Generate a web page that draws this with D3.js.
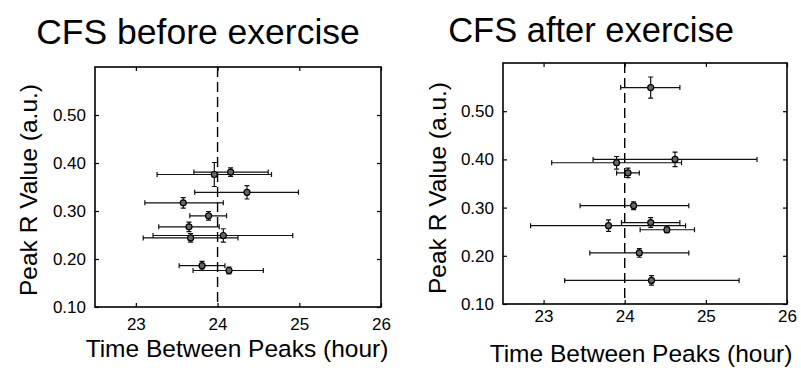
<!DOCTYPE html>
<html>
<head>
<meta charset="utf-8">
<script src="https://cdn.jsdelivr.net/npm/d3@7"></script>
<style>
  body { margin: 0; background: #fff; }
  svg { display: block; font-family: "Liberation Sans", Arial, Helvetica, sans-serif; }
</style>
</head>
<body>
<svg id="plot"></svg>
<script>
// tick labels shared by both panels
const xTicks = [23, 24, 25, 26];
const yTicks = [0.10, 0.20, 0.30, 0.40, 0.50];

// CFS before exercise (period, peak R, horizontal range, vertical half-width)
const beforeX    = [23.96, 24.16, 24.36, 23.58, 23.89, 23.65, 23.67, 24.07, 23.81, 24.14];
const beforeY    = [0.376, 0.381, 0.339, 0.317, 0.290, 0.267, 0.244, 0.249, 0.186, 0.176];
const beforeXLo  = [23.26, 23.71, 23.72, 23.11, 23.66, 23.28, 23.09, 23.21, 23.53, 23.70];
const beforeXHi  = [24.66, 24.62, 24.99, 24.07, 24.11, 24.02, 24.25, 24.92, 24.09, 24.56];
const beforeYErr = [0.025, 0.009, 0.014, 0.011, 0.009, 0.010, 0.009, 0.014, 0.009, 0.007];

// CFS after exercise
const afterX    = [24.32, 24.62, 23.90, 24.04, 24.11, 23.80, 24.32, 24.52, 24.18, 24.33];
const afterY    = [0.549, 0.400, 0.393, 0.372, 0.304, 0.2625, 0.269, 0.254, 0.206, 0.149];
const afterXLo  = [23.95, 23.61, 23.10, 23.90, 23.45, 22.84, 23.96, 24.19, 23.57, 23.26];
const afterXHi  = [24.68, 25.63, 24.70, 24.18, 24.79, 24.75, 24.68, 24.86, 24.79, 25.41];
const afterYErr = [0.022, 0.015, 0.013, 0.010, 0.008, 0.012, 0.010, 0.006, 0.009, 0.010];

const xDomain = [22.5, 26];
const yDomain = [0.10, 0.60];
const refPeriod = 24;

const width = 801;
const height = 368;

const plot = d3.select("#plot").attr("width", width).attr("height", height);

function toRows(xs, ys, lo, hi, ye) {
    return xs.map((x, i) => ({ x: x, y: ys[i], xlo: lo[i], xhi: hi[i], yerr: ye[i] }));
}

function drawPanel(p) {
    const x = d3.scaleLinear().domain(xDomain).range([p.left, p.right]);
    const y = d3.scaleLinear().domain(yDomain).range([p.bottom, p.top]);
    const g = plot.append("g");

    // title
    g.append("text")
        .attr("x", p.titleX).attr("y", p.titleY)
        .attr("text-anchor", "middle")
        .attr("font-size", p.titleSize)
        .text(p.title);

    // inward ticks on all four sides, labels bottom + left
    const tickLen = 4;
    g.append("g")
        .attr("transform", `translate(0,${p.bottom})`)
        .call(d3.axisBottom(x).tickValues(xTicks).tickSizeInner(-tickLen).tickSizeOuter(0).tickPadding(p.xPad).tickFormat(d3.format("d")))
        .call(a => a.select(".domain").remove())
        .call(a => a.selectAll("text").attr("font-size", 17).attr("font-family", null).attr("fill", "#000"));
    g.append("g")
        .attr("transform", `translate(0,${p.top})`)
        .call(d3.axisTop(x).tickValues(xTicks).tickSizeInner(-tickLen).tickSizeOuter(0).tickFormat(""))
        .call(a => a.select(".domain").remove());
    g.append("g")
        .attr("transform", `translate(${p.left},0)`)
        .call(d3.axisLeft(y).tickValues(yTicks).tickSizeInner(-tickLen).tickSizeOuter(0).tickPadding(9).tickFormat(d3.format(".2f")))
        .call(a => a.select(".domain").remove())
        .call(a => a.selectAll("text").attr("font-size", 17).attr("font-family", null).attr("fill", "#000"));
    g.append("g")
        .attr("transform", `translate(${p.right},0)`)
        .call(d3.axisRight(y).tickValues(yTicks).tickSizeInner(-tickLen).tickSizeOuter(0).tickFormat(""))
        .call(a => a.select(".domain").remove());
    g.selectAll(".tick line").attr("stroke", "#000").attr("stroke-width", 1.2);

    // box
    g.append("rect")
        .attr("x", p.left).attr("y", p.top)
        .attr("width", p.right - p.left).attr("height", p.bottom - p.top)
        .attr("fill", "none").attr("stroke", "#000").attr("stroke-width", 1.6);

    // 24 h reference
    g.append("line")
        .attr("x1", x(refPeriod)).attr("x2", x(refPeriod))
        .attr("y1", y(yDomain[1])).attr("y2", y(yDomain[0]))
        .attr("stroke", "#000").attr("stroke-width", 1.4)
        .attr("stroke-dasharray", "10,5");

    // error bars
    const cap = 2.5;
    const eb = g.append("g").attr("stroke", "#111").attr("stroke-width", 1.2).attr("fill", "none");
    p.rows.forEach(d => {
        const cx = x(d.x), cy = y(d.y);
        const x0 = x(d.xlo), x1 = x(d.xhi);
        const y0 = y(d.y - d.yerr), y1 = y(d.y + d.yerr);
        eb.append("path").attr("d",
            `M${x0},${cy}H${x1}M${x0},${cy - cap}V${cy + cap}M${x1},${cy - cap}V${cy + cap}` +
            `M${cx},${y0}V${y1}M${cx - cap},${y0}H${cx + cap}M${cx - cap},${y1}H${cx + cap}`);
    });

    // markers
    g.append("g").selectAll("circle")
        .data(p.rows)
        .join("circle")
        .attr("cx", d => x(d.x)).attr("cy", d => y(d.y))
        .attr("r", 3)
        .attr("fill", "#666").attr("stroke", "#000").attr("stroke-width", 1.2);

    // axis titles
    g.append("text")
        .attr("x", (p.left + p.right) / 2 + p.xLabelShift).attr("y", p.xLabelY)
        .attr("text-anchor", "middle").attr("font-size", 24.5)
        .text("Time Between Peaks (hour)");
    g.append("text")
        .attr("transform", `translate(${p.yLabelX},${p.yLabelY}) rotate(-90)`)
        .attr("text-anchor", "middle").attr("font-size", 24.5)
        .text("Peak R Value (a.u.)");
}

drawPanel({
    title: "CFS before exercise", titleX: 198, titleY: 44, titleSize: 35.5,
    left: 95, right: 381, top: 67, bottom: 307, xPad: 11,
    rows: toRows(beforeX, beforeY, beforeXLo, beforeXHi, beforeYErr),
    xLabelY: 357, xLabelShift: -1, yLabelX: 37, yLabelY: 190
});

drawPanel({
    title: "CFS after exercise", titleX: 591, titleY: 42, titleSize: 34.5,
    left: 503, right: 787, top: 63, bottom: 304, xPad: 6,
    rows: toRows(afterX, afterY, afterXLo, afterXHi, afterYErr),
    xLabelY: 362, xLabelShift: -4, yLabelX: 446, yLabelY: 188
});
</script>
</body>
</html>
